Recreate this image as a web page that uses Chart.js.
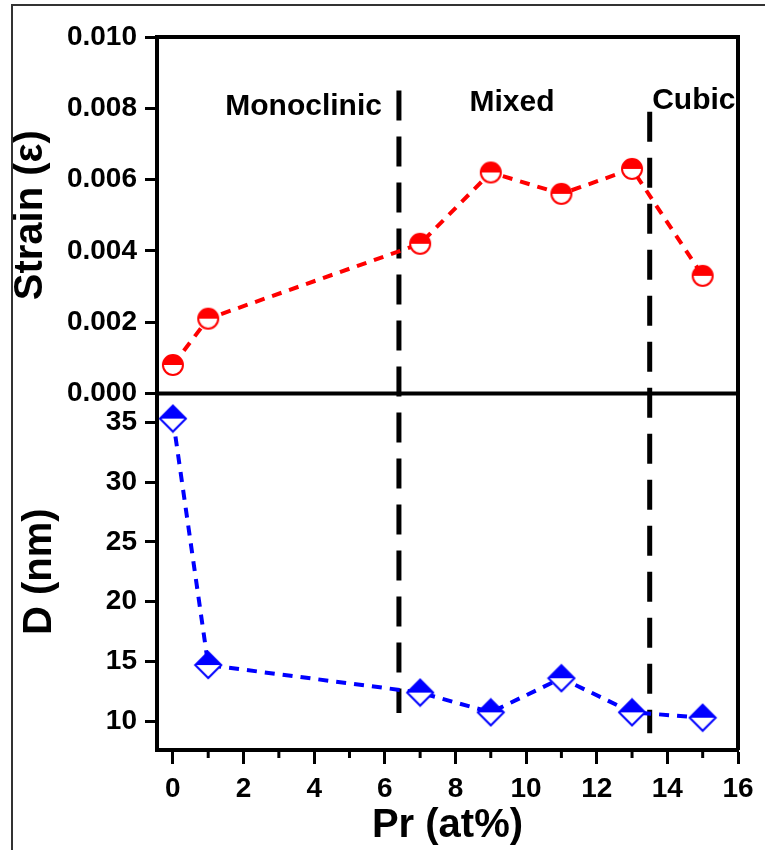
<!DOCTYPE html>
<html>
<head>
<meta charset="utf-8">
<script src="https://cdn.jsdelivr.net/npm/chart.js@4.4.1/dist/chart.umd.min.js"></script>
<style>
  html, body { margin: 0; padding: 0; background: #fff; }
  #wrap { position: relative; width: 765px; height: 850px; }
</style>
</head>
<body>
<div id="wrap"><canvas id="c" width="765" height="850"></canvas></div>
<script>
// Strain and crystallite size vs Pr content
var prX = [0, 1, 7, 9, 11, 13, 15];
var strain = [0.0008, 0.0021, 0.0042, 0.0062, 0.0056, 0.0063, 0.0033];
var sizeD = [35.3, 14.7, 12.4, 10.75, 13.6, 10.75, 10.3];

var xTicks = [0, 2, 4, 6, 8, 10, 12, 14, 16];
var xMinor = [1, 3, 5, 7, 9, 11, 13, 15];
var strainTicks = [0, 0.002, 0.004, 0.006, 0.008, 0.010];
var dTicks = [10, 15, 20, 25, 30, 35];

// phase boundaries (x in at%, top end in strain units, bottom end in nm)
var phaseX = [6.4, 13.5];
var phaseTop = [0.0085, 0.0079];
var phaseBottom = [10.7, 9.0];

var phaseNames = ['Monoclinic', 'Mixed', 'Cubic'];
var phaseLabelX = [3.7, 9.6, 14.75];
var phaseLabelY = [0.00803, 0.00815, 0.0082];

var FAMILY = '"Liberation Sans", Arial, sans-serif';

function halfCircle(col) {
  var cv = document.createElement('canvas');
  cv.width = 24; cv.height = 24;
  var c = cv.getContext('2d');
  c.fillStyle = '#fff';
  c.beginPath(); c.arc(12, 12, 10, 0, Math.PI * 2); c.fill();
  c.fillStyle = col;
  c.beginPath(); c.arc(12, 12, 10, Math.PI, 0); c.closePath(); c.fill();
  c.strokeStyle = col; c.lineWidth = 2;
  c.beginPath(); c.arc(12, 12, 10, 0, Math.PI * 2); c.stroke();
  return cv;
}

function halfDiamond(col) {
  var cv = document.createElement('canvas');
  cv.width = 30; cv.height = 30;
  var c = cv.getContext('2d');
  c.fillStyle = '#fff';
  c.beginPath(); c.moveTo(15, 2); c.lineTo(28, 15); c.lineTo(15, 28); c.lineTo(2, 15); c.closePath(); c.fill();
  c.fillStyle = col;
  c.beginPath(); c.moveTo(15, 2); c.lineTo(28, 15); c.lineTo(2, 15); c.closePath(); c.fill();
  c.strokeStyle = col; c.lineWidth = 2;
  c.beginPath(); c.moveTo(15, 2); c.lineTo(28, 15); c.lineTo(15, 28); c.lineTo(2, 15); c.closePath(); c.stroke();
  return cv;
}

function pts(xs, ys) {
  return xs.map(function (x, i) { return { x: x, y: ys[i] }; });
}

var decor = {
  id: 'decor',
  beforeDatasetsDraw: function (chart) {
    var ctx = chart.ctx, x = chart.scales.x, ys = chart.scales.s, yd = chart.scales.d;
    ctx.save();
    ctx.strokeStyle = '#000';
    ctx.lineWidth = 5;
    ctx.setLineDash([30, 16]);
    phaseX.forEach(function (px, i) {
      var xp = x.getPixelForValue(px);
      ctx.beginPath();
      ctx.moveTo(xp, ys.getPixelForValue(phaseTop[i]));
      ctx.lineTo(xp, yd.getPixelForValue(phaseBottom[i]));
      ctx.stroke();
    });
    ctx.restore();
  },
  afterDraw: function (chart) {
    var ctx = chart.ctx, a = chart.chartArea, x = chart.scales.x, ys = chart.scales.s;
    ctx.save();
    // outer frame of the figure
    ctx.strokeStyle = '#333';
    ctx.lineWidth = 2;
    ctx.strokeRect(12, 5, 770, 870);
    // plot frame top / right and panel divider
    ctx.strokeStyle = '#000';
    ctx.lineWidth = 4;
    ctx.beginPath();
    ctx.moveTo(a.left - 2, a.top);
    ctx.lineTo(a.right, a.top);
    ctx.lineTo(a.right, a.bottom);
    ctx.moveTo(a.left, ys.bottom);
    ctx.lineTo(a.right, ys.bottom);
    ctx.stroke();
    // minor x ticks
    ctx.lineWidth = 3;
    ctx.beginPath();
    xMinor.forEach(function (v) {
      var xp = x.getPixelForValue(v);
      ctx.moveTo(xp, a.bottom);
      ctx.lineTo(xp, a.bottom + 8);
    });
    ctx.stroke();
    // phase labels
    ctx.fillStyle = '#000';
    ctx.font = 'bold 30px ' + FAMILY;
    ctx.textAlign = 'center';
    ctx.textBaseline = 'middle';
    phaseNames.forEach(function (t, i) {
      ctx.fillText(t, x.getPixelForValue(phaseLabelX[i]), ys.getPixelForValue(phaseLabelY[i]));
    });
    ctx.restore();
  }
};

var tickFont = { family: FAMILY, size: 28, weight: 'bold' };
var titleFont = { family: FAMILY, size: 40, weight: 'bold' };

new Chart(document.getElementById('c'), {
  type: 'line',
  data: {
    datasets: [
      {
        label: 'D (nm)',
        data: pts(prX, sizeD),
        yAxisID: 'd',
        borderColor: '#0000ff',
        borderWidth: 4,
        borderDash: [10, 8],
        pointStyle: halfDiamond('#0000ff'),
        pointRadius: 12,
        fill: false,
        tension: 0
      },
      {
        label: 'Strain',
        data: pts(prX, strain),
        yAxisID: 's',
        borderColor: '#ff0000',
        borderWidth: 4,
        borderDash: [10, 8],
        pointStyle: halfCircle('#ff0000'),
        pointRadius: 10,
        fill: false,
        tension: 0
      }
    ]
  },
  options: {
    responsive: false,
    animation: false,
    devicePixelRatio: 1,
    layout: { padding: { top: 37, right: 27, left: 0, bottom: 0 } },
    plugins: { legend: { display: false }, tooltip: { enabled: false } },
    scales: {
      x: {
        type: 'linear',
        min: -0.45,
        max: 16,
        afterBuildTicks: function (s) { s.ticks = xTicks.map(function (v) { return { value: v }; }); },
        afterFit: function (s) { s.height = 100; },
        border: { color: '#000', width: 4 },
        grid: { drawOnChartArea: false, tickLength: 14, tickWidth: 3, tickColor: '#000' },
        ticks: { color: '#000', font: tickFont, padding: 8, maxRotation: 0, autoSkip: false },
        title: { display: true, text: 'Pr (at%)', color: '#000', font: titleFont, padding: { top: 0, bottom: 0 } }
      },
      d: {
        type: 'linear',
        position: 'left',
        stack: 'panels',
        stackWeight: 1,
        min: 7.6,
        max: 37.4,
        afterBuildTicks: function (s) { s.ticks = dTicks.map(function (v) { return { value: v }; }); },
        afterFit: function (s) { s.width = 157; },
        border: { color: '#000', width: 4 },
        grid: { drawOnChartArea: false, tickLength: 12, tickWidth: 3, tickColor: '#000' },
        ticks: { color: '#000', font: tickFont, padding: 8 },
        title: { display: true, text: 'D (nm)', color: '#000', font: titleFont, padding: { top: 16, bottom: 0 } }
      },
      s: {
        type: 'linear',
        position: 'left',
        stack: 'panels',
        stackWeight: 1,
        min: 0,
        max: 0.010,
        afterBuildTicks: function (s) { s.ticks = strainTicks.map(function (v) { return { value: v }; }); },
        afterFit: function (s) { s.width = 157; },
        border: { color: '#000', width: 4 },
        grid: { drawOnChartArea: false, tickLength: 12, tickWidth: 3, tickColor: '#000' },
        ticks: { color: '#000', font: tickFont, padding: 8, callback: function (v) { return v.toFixed(3); } },
        title: { display: true, text: 'Strain (ε)', color: '#000', font: titleFont, padding: { top: 7, bottom: 0 } }
      }
    }
  },
  plugins: [decor]
});
</script>
</body>
</html>
